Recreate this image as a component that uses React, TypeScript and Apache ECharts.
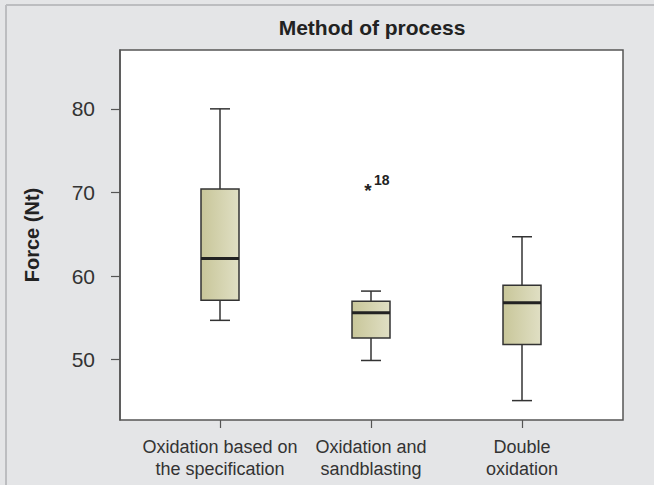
import React, { useEffect, useRef } from "react";
import * as echarts from "echarts";

const categories = ["Oxidation based on\nthe specification", "Oxidation and\nsandblasting", "Double\noxidation"];
// [min, Q1, median, Q3, max]
const boxValues = [
  [54.7, 57.1, 62.1, 70.4, 80.0],
  [49.9, 52.6, 55.6, 57.0, 58.2],
  [45.1, 51.8, 56.8, 58.9, 64.7],
];
const outliers = [{ category: 1, value: 70.8, label: "18" }];
const yTicks = [50, 60, 70, 80];
const yMin = 42.78;
const yMax = 87.04;

export default function App() {
  const ref = useRef<HTMLDivElement>(null);
  useEffect(() => {
    const chart = echarts.init(ref.current!, null, { renderer: "svg" });
    const font = "'Liberation Sans', Arial, sans-serif";
    const boxData = boxValues.map((v, i) => [i, ...v]);
    const outlierData = outliers.map((o) => [o.category, o.value, o.label]);
    chart.setOption({
      animation: false,
      backgroundColor: "#e4e5e7",
      textStyle: { fontFamily: font },
      graphic: [
        { type: "line", shape: { x1: 6, y1: 5, x2: 654, y2: 5 }, style: { stroke: "#bcbdc0", lineWidth: 2 }, silent: true },
        { type: "line", shape: { x1: 6, y1: 5, x2: 6, y2: 485 }, style: { stroke: "#bcbdc0", lineWidth: 2 }, silent: true },
        {
          type: "text",
          x: 372,
          y: 27,
          style: { text: "Method of process", fontSize: 21, fontWeight: "bold", fill: "#222", align: "center", verticalAlign: "middle", fontFamily: font },
        },
      ],
      grid: [
        { left: 120, top: 50, width: 503, height: 370, show: true, backgroundColor: "#fff", borderColor: "#555", borderWidth: 1.5 },
        { left: 144.5, top: 50, width: 453, height: 370 },
      ],
      xAxis: [
        { gridIndex: 0, type: "value", min: 0, max: 1, show: false },
        {
          gridIndex: 1,
          type: "category",
          data: categories,
          boundaryGap: true,
          axisLine: { show: false },
          axisTick: { show: true, alignWithLabel: true, length: 8, lineStyle: { color: "#555", width: 1.2 } },
          axisLabel: { fontSize: 18, color: "#333", lineHeight: 22, margin: 16, interval: 0, fontFamily: font },
          splitLine: { show: false },
        },
      ],
      yAxis: [
        {
          gridIndex: 0,
          type: "value",
          min: yMin,
          max: yMax,
          name: "Force (Nt)",
          nameLocation: "middle",
          nameGap: 78,
          nameTextStyle: { fontSize: 20, fontWeight: "bold", color: "#222", fontFamily: font },
          axisLine: { show: true, lineStyle: { color: "#555", width: 1.5 } },
          axisTick: { show: true, length: 9, customValues: yTicks, lineStyle: { color: "#555", width: 1.2 } },
          axisLabel: { fontSize: 21, color: "#333", margin: 25, customValues: yTicks, fontFamily: font },
          splitLine: { show: false },
        },
        { gridIndex: 1, type: "value", min: yMin, max: yMax, show: false },
      ],
      series: [
        {
          type: "custom",
          xAxisIndex: 1,
          yAxisIndex: 1,
          data: boxData,
          renderItem: (params: any, api: any) => {
            const idx = api.value(0);
            const x = api.coord([idx, 0])[0];
            const y = (k: number) => api.coord([idx, api.value(k)])[1];
            const yMinP = y(1), yQ1 = y(2), yMed = y(3), yQ3 = y(4), yMaxP = y(5);
            const hw = 19, cw = 10;
            const stroke = { stroke: "#333", lineWidth: 1.5 };
            return {
              type: "group",
              children: [
                { type: "line", shape: { x1: x, y1: yQ3, x2: x, y2: yMaxP }, style: stroke },
                { type: "line", shape: { x1: x, y1: yQ1, x2: x, y2: yMinP }, style: stroke },
                { type: "line", shape: { x1: x - cw, y1: yMaxP, x2: x + cw, y2: yMaxP }, style: stroke },
                { type: "line", shape: { x1: x - cw, y1: yMinP, x2: x + cw, y2: yMinP }, style: stroke },
                {
                  type: "rect",
                  shape: { x: x - hw, y: yQ3, width: hw * 2, height: yQ1 - yQ3 },
                  style: {
                    fill: new echarts.graphic.LinearGradient(0, 0, 1, 0, [
                      { offset: 0, color: "#c8c699" },
                      { offset: 1, color: "#e0dfc4" },
                    ]),
                    stroke: "#333",
                    lineWidth: 1.5,
                  },
                },
                { type: "line", shape: { x1: x - hw, y1: yMed, x2: x + hw, y2: yMed }, style: { stroke: "#222", lineWidth: 3 } },
              ],
            };
          },
        },
        {
          type: "custom",
          xAxisIndex: 1,
          yAxisIndex: 1,
          data: outlierData,
          renderItem: (params: any, api: any) => {
            const p = api.coord([api.value(0), api.value(1)]);
            const lbl = outliers[params.dataIndex].label;
            return {
              type: "group",
              children: [
                { type: "text", x: p[0] - 3, y: p[1] + 5, style: { text: "*", fontSize: 19, fontWeight: "bold", fill: "#222", align: "center", verticalAlign: "middle", fontFamily: font } },
                { type: "text", x: p[0] + 3, y: p[1] - 6, style: { text: lbl, fontSize: 14, fontWeight: "bold", fill: "#222", align: "left", verticalAlign: "middle", fontFamily: font } },
              ],
            };
          },
        },
      ],
    });
    return () => chart.dispose();
  }, []);
  return <div ref={ref} style={{ position: "absolute", left: 0, top: 0, width: 654, height: 485 }} />;
}
